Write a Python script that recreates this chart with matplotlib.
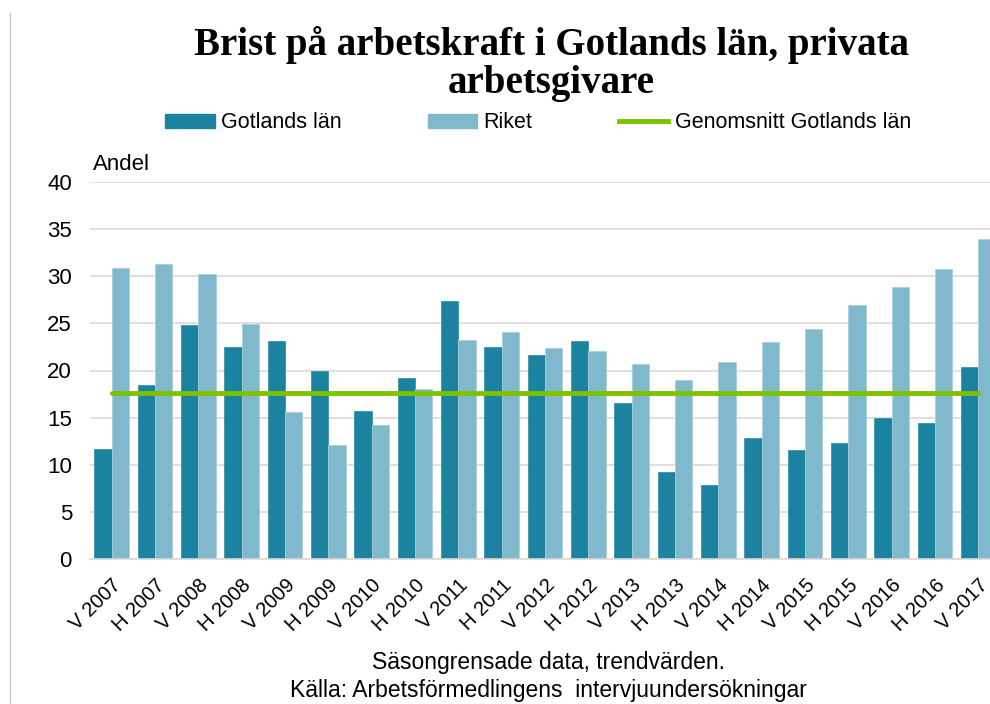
import numpy as np
import matplotlib
matplotlib.use("Agg")
import matplotlib.pyplot as plt
from matplotlib.lines import Line2D
from matplotlib.patches import Patch

# Data
perioder = ['V 2007', 'H 2007', 'V 2008', 'H 2008', 'V 2009', 'H 2009', 'V 2010',
            'H 2010', 'V 2011', 'H 2011', 'V 2012', 'H 2012', 'V 2013', 'H 2013',
            'V 2014', 'H 2014', 'V 2015', 'H 2015', 'V 2016', 'H 2016', 'V 2017']
gotland = [11.7, 18.5, 24.8, 22.5, 23.1, 20.0, 15.7, 19.2, 27.4, 22.5, 21.6,
           23.1, 16.5, 9.2, 7.9, 12.8, 11.6, 12.3, 15.0, 14.4, 20.4]
riket = [30.9, 31.3, 30.2, 24.9, 15.6, 12.1, 14.2, 18.0, 23.2, 24.1, 22.4,
         22.1, 20.7, 19.0, 20.9, 23.0, 24.4, 27.0, 28.9, 30.8, 34.0]
genomsnitt = 17.6

MORK = '#1b82a0'
LJUS = '#80b9cb'
GRON = '#7dc100'

plt.rcParams['font.family'] = ['Liberation Sans', 'DejaVu Sans']
FS = 16

fig = plt.figure(figsize=(9.9, 7.04), dpi=100)
ax = fig.add_axes([90 / 990, 145 / 704, 910 / 990, 377 / 704])

x = np.arange(len(perioder))
w = 0.40
ax.bar(x - w / 2, gotland, width=w, color=MORK, edgecolor='#3a93ad', linewidth=0.6, zorder=2)
ax.bar(x + w / 2, riket, width=w, color=LJUS, edgecolor='#a9d0dc', linewidth=0.6, zorder=2)
ax.plot(x, [genomsnitt] * len(x), color=GRON, linewidth=3.5, solid_capstyle='round', zorder=3)

ax.set_xlim(-0.5, len(perioder) - 0.5)
ax.set_ylim(0, 40)
ax.set_yticks(range(0, 41, 5))
ax.yaxis.grid(True, color='#d9d9d9', linewidth=1.2, zorder=0)
ax.set_axisbelow(True)
for s in ['top', 'right', 'left']:
    ax.spines[s].set_visible(False)
ax.spines['bottom'].set_color('#d9d9d9')
ax.spines['bottom'].set_linewidth(1.2)
ax.tick_params(axis='both', length=0, labelsize=FS, colors='black')
ax.tick_params(axis='y', pad=13)
ax.set_xticks(x)
ax.set_xticklabels(perioder, rotation=45, ha='right', rotation_mode='anchor', fontsize=14.5)
ax.tick_params(axis='x', pad=12)

fig.text(93 / 990, 1 - 165 / 704, 'Andel', fontsize=FS, va='center', ha='left')

# Titel, två rader
titel_font = ['Liberation Serif', 'DejaVu Serif']
fig.text(551 / 990, 1 - 45 / 704, 'Brist på arbetskraft i Gotlands län, privata',
         ha='center', va='center', fontsize=28, fontweight='bold', family=titel_font)
fig.text(551 / 990, 1 - 83 / 704, 'arbetsgivare',
         ha='center', va='center', fontsize=28, fontweight='bold', family=titel_font)

# Legend
handles = [Patch(color=MORK), Patch(color=LJUS), Line2D([0], [0], color=GRON, linewidth=3.5)]
fig.legend(handles, ['Gotlands län', 'Riket', 'Genomsnitt Gotlands län'],
           loc='center', bbox_to_anchor=(538 / 990, 1 - 123 / 704), ncol=3, frameon=False,
           fontsize=15.5, handlelength=2.3, handletextpad=0.3, columnspacing=4.0,
           handleheight=0.6)

fig.text(548 / 990, 1 - 663 / 704, 'Säsongrensade data, trendvärden.', ha='center', va='center',
         fontsize=16.5)
fig.text(548 / 990, 1 - 690 / 704, 'Källa: Arbetsförmedlingens  intervjuundersökningar',
         ha='center', va='center', fontsize=16.5)

# tunn ram till vänster
fig.add_artist(Line2D([9.5 / 990, 9.5 / 990], [0, 1 - 13 / 704], color='#c8c8c8', linewidth=1))

fig.savefig('out.png', dpi=100)
